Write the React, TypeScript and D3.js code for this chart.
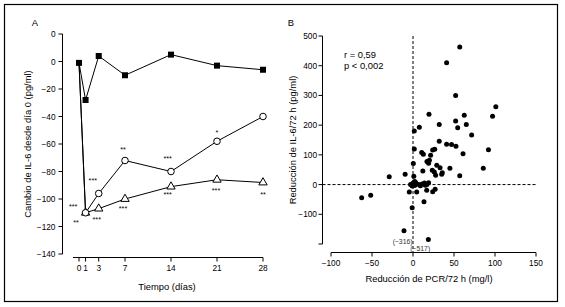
import React from 'react';
import * as d3 from 'd3';

// ---------- Panel A data ----------
const days = [0, 1, 3, 7, 14, 21, 28];
const squareSeries = [-1, -28, 4, -10, 5, -3, -6];
const circleSeries = [-1, -110, -96, -72, -80, -58, -40];
const triangleSeries = [-1, -110, -107, -100, -91, -86, -88];
const aYTicks = [20, 0, -20, -40, -60, -80, -100, -120, -140];
const aYTickLabels = ['0', '0', '−20', '−40', '−60', '−80', '−100', '−120', '−140'];
const aXTickLabels = ['0', '1', '3', '7', '14', '21', '28'];
const sigDays = [-0.9, -0.45, 2.1, 2.7, 6.7, 6.7, 13.5, 13.5, 21, 20.85, 28];
const sigValues = [-104, -116, -85.5, -114, -63, -106, -69.5, -95.6, -50.5, -92.7, -95.6];
const sigLabels = ['***', '**', '***', '***', '**', '***', '***', '***', '*', '***', '**'];

// ---------- Panel B data ----------
const pcrReduction = [
  57, 41, 52, 101, 97, 19.5, 62.5, 52, 65, 32, 54.5, 7.7, 1.6, 71.5, 32, 41, 47, 52.4, 92, 26.5,
  1.6, 10.6, 12.6, 21.5, 61, 17, 19, 0.4, 29, 33, 45, 23.5, 12, 26, 35.7, 35, 27.6, 57, 85.7, -29,
  -9.6, 1, -62.6, -51.6, -1, -4.5, 4.5, 16.7, 24, 27, 13.4, -11, 18.7,
  -3, 0, 2, 4, 7, 11, 14, 17, 19, 3, -1, 9, 15, 2, 20, 24,
];
const il6Reduction = [
  463, 410, 300, 262, 230, 237, 233, 214, 202, 202, 191, 193, 180, 167, 146, 136, 135, 129, 117, 119,
  120, 108, 102, 99, 104, 78, 72, 71, 65, 57, 55, 48, 46, 42, 40, 35, 31, 30, 55, 26,
  35, 28, -44, -36, -78, -25, -25, -19, -24, -16, -58, -155, -185,
  0, 5, -3, 3, 0, 2, 5, 0, 6, 8, -5, -4, -2, 10, 82, 116,
];
const offScaleIndex = [51, 52];
const offScaleText = ['(−316)', '(−517)'];
const bXTicks = [-100, -50, 0, 50, 100, 150];
const bXTickLabels = ['−100', '−50', '0', '50', '100', '150'];
const bYTicks = [500, 400, 300, 200, 100, 0, -100, -200];
const bYTickLabels = ['500', '400', '300', '200', '100', '0', '−100', ''];

const FONT = '"Liberation Sans", Arial, Helvetica, sans-serif';

export default function App() {
  // Panel A scales
  const ax = d3.scaleLinear().domain([0, 28]).range([79, 263]);
  const ay = d3.scaleLinear().domain([-140, 20]).range([254, 34]);
  const lineA = d3
    .line<number>()
    .x((_, i) => ax(days[i]))
    .y((v) => ay(v));
  const triPath = d3.symbol(d3.symbolTriangle, 30)() as string;

  // Panel B scales
  const bx = d3.scaleLinear().domain([-100, 150]).range([331, 536]);
  const by = d3.scaleLinear().domain([-200, 500]).range([244, 36]);

  const tickFont = 8.3;
  const titleFont = 9.4;

  return (
    <svg
      width={565}
      height={307}
      style={{ position: 'absolute', left: 0, top: 0, background: '#fff' }}
      fontFamily={FONT}
    >
      <rect x={0} y={0} width={565} height={307} fill="#fff" />
      <rect x={4.5} y={4.5} width={553} height={297} fill="none" stroke="#000" strokeWidth={1.2} />

      {/* ================= Panel A ================= */}
      <text x={35} y={26} fontSize={titleFont} textAnchor="middle">A</text>
      <line x1={62.5} x2={62.5} y1={ay(20)} y2={ay(-140)} stroke="#000" strokeWidth={1} />
      {aYTicks.map((t, i) => (
        <g key={'ayt' + i}>
          <line x1={58.5} x2={62.5} y1={ay(t)} y2={ay(t)} stroke="#000" strokeWidth={1} />
          <text x={55.5} y={ay(t) + 3} fontSize={tickFont} textAnchor="end">
            {aYTickLabels[i]}
          </text>
        </g>
      ))}
      <line x1={73} x2={ax(28)} y1={257.5} y2={257.5} stroke="#000" strokeWidth={1} />
      {days.map((d, i) => (
        <g key={'axt' + i}>
          <line x1={ax(d)} x2={ax(d)} y1={257.5} y2={261.5} stroke="#000" strokeWidth={1} />
          <text x={ax(d)} y={270.5} fontSize={tickFont} textAnchor="middle">
            {aXTickLabels[i]}
          </text>
        </g>
      ))}
      <text x={167} y={290} fontSize={titleFont} textAnchor="middle">Tiempo (días)</text>
      <text
        transform={`translate(30.5,${ay(-60)}) rotate(-90)`}
        fontSize={titleFont}
        textAnchor="middle"
      >
        Cambio de IL-6 desde día 0 (pg/ml)
      </text>

      <path d={lineA(triangleSeries) as string} fill="none" stroke="#000" strokeWidth={1} />
      <path d={lineA(circleSeries) as string} fill="none" stroke="#000" strokeWidth={1} />
      <path d={lineA(squareSeries) as string} fill="none" stroke="#000" strokeWidth={1} />
      {triangleSeries.map((v, i) =>
        i === 0 ? null : (
          <path
            key={'tri' + i}
            d={triPath}
            transform={`translate(${ax(days[i])},${ay(v)})`}
            fill="#fff"
            stroke="#000"
            strokeWidth={1}
          />
        )
      )}
      {circleSeries.map((v, i) =>
        i === 0 ? null : (
          <circle key={'cir' + i} cx={ax(days[i])} cy={ay(v)} r={3.3} fill="#fff" stroke="#000" strokeWidth={1} />
        )
      )}
      {squareSeries.map((v, i) => (
        <rect key={'sq' + i} x={ax(days[i]) - 3} y={ay(v) - 3} width={6} height={6} fill="#000" />
      ))}
      {sigLabels.map((s, i) => (
        <text
          key={'sig' + i}
          x={ax(sigDays[i])}
          y={ay(sigValues[i]) + 4}
          fontSize={7.2}
          textAnchor="middle"
        >
          {s}
        </text>
      ))}

      {/* ================= Panel B ================= */}
      <text x={291} y={26} fontSize={titleFont} textAnchor="middle">B</text>
      <line x1={322.5} x2={322.5} y1={by(500)} y2={by(-200)} stroke="#000" strokeWidth={1} />
      {bYTicks.map((t, i) => (
        <g key={'byt' + i}>
          <line x1={318.5} x2={322.5} y1={by(t)} y2={by(t)} stroke="#000" strokeWidth={1} />
          <text x={317} y={by(t) + 3} fontSize={tickFont} textAnchor="end">
            {bYTickLabels[i]}
          </text>
        </g>
      ))}
      <line x1={bx(-100)} x2={bx(150)} y1={252.5} y2={252.5} stroke="#000" strokeWidth={1} />
      {bXTicks.map((t, i) => (
        <g key={'bxt' + i}>
          <line x1={bx(t)} x2={bx(t)} y1={252.5} y2={256.5} stroke="#000" strokeWidth={1} />
          <text x={bx(t)} y={266} fontSize={tickFont} textAnchor="middle">
            {bXTickLabels[i]}
          </text>
        </g>
      ))}
      <text x={429} y={281.5} fontSize={titleFont} textAnchor="middle">
        Reducción de PCR/72 h (mg/l)
      </text>
      <text
        transform={`translate(295.5,${by(150)}) rotate(-90)`}
        fontSize={titleFont}
        textAnchor="middle"
      >
        Reducción de IL-6/72 h (pg/ml)
      </text>

      <line x1={bx(0)} x2={bx(0)} y1={by(500)} y2={252.5} stroke="#000" strokeWidth={1} strokeDasharray="3,2" />
      <line x1={322.5} x2={bx(150)} y1={by(0)} y2={by(0)} stroke="#000" strokeWidth={1} strokeDasharray="3,2" />

      <text x={344} y={58} fontSize={titleFont}>r = 0,59</text>
      <text x={344} y={69} fontSize={titleFont}>p &lt; 0,002</text>

      {pcrReduction.map((x, i) => (
        <circle key={'pt' + i} cx={bx(x)} cy={by(il6Reduction[i])} r={2.5} fill="#000" />
      ))}
      {offScaleIndex.map((idx, k) =>
        k === 0 ? (
          <text
            key={'off' + k}
            x={bx(pcrReduction[idx]) + 8.5}
            y={by(il6Reduction[idx]) + 13}
            fontSize={6.8}
            fill="#333"
            textAnchor="end"
          >
            {offScaleText[k]}
          </text>
        ) : (
          <text
            key={'off' + k}
            x={bx(pcrReduction[idx]) - 18}
            y={by(il6Reduction[idx]) + 11}
            fontSize={6.8}
            fill="#333"
          >
            {offScaleText[k]}
          </text>
        )
      )}
    </svg>
  );
}
